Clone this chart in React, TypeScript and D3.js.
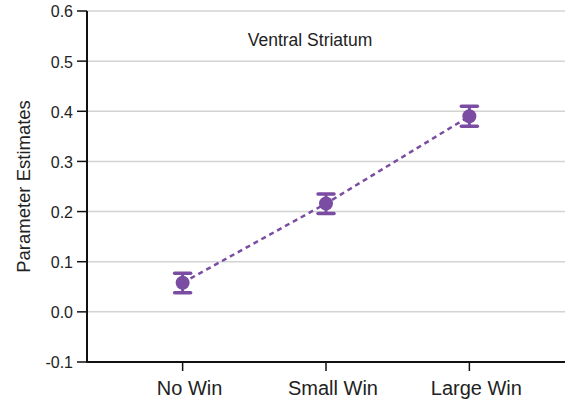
import React from "react";
import * as d3 from "d3";

const categories = ["No Win", "Small Win", "Large Win"];
const means = [0.058, 0.216, 0.39];
const errLower = [0.038, 0.196, 0.37];
const errUpper = [0.077, 0.235, 0.41];
const yTicks = [-0.1, 0.0, 0.1, 0.2, 0.3, 0.4, 0.5, 0.6];
const title = "Ventral Striatum";
const yLabel = "Parameter Estimates";

const W = 573;
const H = 401;
const left = 87;
const right = 565;
const top = 11;
const bottom = 362;
const purple = "#7a4ca2";
const font = "Liberation Sans, Arial, sans-serif";

// plain hyphen for negatives
const fmt = (v: number) => d3.format(".1f")(v).replace("\u2212", "-");

export default function App() {
  const x = d3.scalePoint<string>().domain(categories).range([left, right]).padding(0.667);
  const y = d3.scaleLinear().domain([-0.1, 0.6]).range([bottom, top]);
  const line = d3
    .line<number>()
    .x((_, i) => x(categories[i]) as number)
    .y((d) => y(d));

  return (
    <svg
      width={W}
      height={H}
      style={{ position: "absolute", left: 0, top: 0 }}
      fontFamily={font}
    >
      {yTicks.map((t) => (
        <g key={t}>
          {t > -0.1 && (
            <line x1={left} x2={right} y1={y(t)} y2={y(t)} stroke="#d3d3d3" strokeWidth={1.5} />
          )}
          <line x1={left - 10} x2={left} y1={y(t)} y2={y(t)} stroke="#111" strokeWidth={1.5} />
          <text x={left - 14} y={y(t)} dy="0.4em" textAnchor="end" fontSize={16} fill="#222">
            {fmt(t)}
          </text>
        </g>
      ))}
      <line x1={left} x2={left} y1={top} y2={bottom + 0.75} stroke="#111" strokeWidth={2} />
      <line x1={left} x2={right} y1={bottom} y2={bottom} stroke="#111" strokeWidth={2} />
      {categories.map((c) => (
        <g key={c}>
          <line x1={x(c)} x2={x(c)} y1={bottom} y2={bottom + 9} stroke="#111" strokeWidth={1.5} />
          <text x={(x(c) as number) + 7} y={bottom + 33} textAnchor="middle" fontSize={20} fill="#222">
            {c}
          </text>
        </g>
      ))}
      <text
        transform={`translate(30,${(top + bottom) / 2}) rotate(-90)`}
        textAnchor="middle"
        fontSize={18.5}
        fill="#222"
      >
        {yLabel}
      </text>
      <text x={310} y={46} textAnchor="middle" fontSize={17.5} fill="#222">
        {title}
      </text>
      <path
        d={line(means) || ""}
        fill="none"
        stroke={purple}
        strokeWidth={2.5}
        strokeDasharray="5,4"
      />
      {categories.map((c, i) => {
        const cx = x(c) as number;
        return (
          <g key={c}>
            <line x1={cx} x2={cx} y1={y(errUpper[i])} y2={y(errLower[i])} stroke={purple} strokeWidth={3} />
            <line x1={cx - 8} x2={cx + 8} y1={y(errUpper[i])} y2={y(errUpper[i])} stroke={purple} strokeWidth={3.5} strokeLinecap="round" />
            <line x1={cx - 8} x2={cx + 8} y1={y(errLower[i])} y2={y(errLower[i])} stroke={purple} strokeWidth={3.5} strokeLinecap="round" />
            <circle cx={cx} cy={y(means[i])} r={7} fill={purple} />
          </g>
        );
      })}
    </svg>
  );
}
